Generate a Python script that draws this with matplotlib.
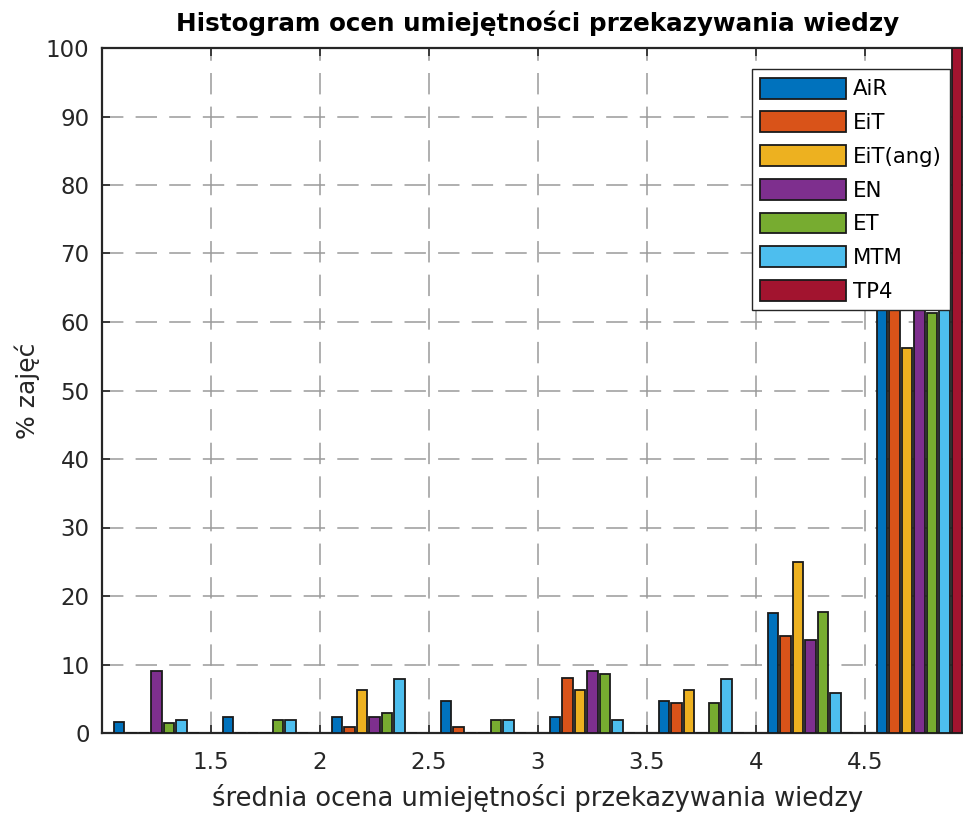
import matplotlib.pyplot as plt
import numpy as np

plt.rcParams['font.family'] = ['DejaVu Sans']

# bin centres of the histogram (average rating)
bins = [1.25, 1.75, 2.25, 2.75, 3.25, 3.75, 4.25, 4.75]

# % of classes per bin, one list per faculty
air = [1.64, 2.4, 2.4, 4.74, 2.4, 4.74, 17.5, 64.2]
eit = [0.0, 0.0, 0.9, 0.9, 8.0, 4.45, 14.2, 71.5]
eit_ang = [0.0, 0.0, 6.25, 0.0, 6.25, 6.25, 25.0, 56.25]
en = [9.1, 0.0, 2.3, 0.0, 9.1, 0.0, 13.6, 65.9]
et = [1.48, 1.93, 2.95, 1.93, 8.64, 4.35, 17.7, 61.3]
mtm = [1.95, 1.97, 7.9, 1.97, 1.97, 7.9, 5.9, 70.4]
tp4 = [0.0, 0.0, 0.0, 0.0, 0.0, 0.0, 0.0, 100.0]

series = [air, eit, eit_ang, en, et, mtm, tp4]
names = ['AiR', 'EiT', 'EiT(ang)', 'EN', 'ET', 'MTM', 'TP4']
colors = ['#0072BD', '#D95319', '#EDB120', '#7E2F8E',
          '#77AC30', '#4DBEEE', '#A2142F']

dark = '#262626'

fig = plt.figure(figsize=(9.63, 8.16), dpi=100)
ax = fig.add_axes([102 / 963, 83 / 816, 872 / 963, 685 / 816])

x = np.array(bins)
n = len(series)
step = 0.5 * 0.8 / n
for i, (vals, name, c) in enumerate(zip(series, names, colors)):
    ax.bar(x + (i - (n - 1) / 2) * step, vals, width=step * 0.84,
           color=c, edgecolor='#1a1a1a', linewidth=1.3, label=name, zorder=3)

ax.set_xlim(1, 5)
ax.set_ylim(0, 100)
ax.set_xticks([1.5, 2, 2.5, 3, 3.5, 4, 4.5])
ax.set_xticklabels(['1.5', '2', '2.5', '3', '3.5', '4', '4.5'])
ax.set_yticks(np.arange(0, 101, 10))

ax.set_axisbelow(True)
ax.grid(True, color='#9a9a9a', linewidth=1.1, linestyle=(0, (14, 8)))

for s in ax.spines.values():
    s.set_color(dark)
    s.set_linewidth(1.6)
ax.tick_params(direction='in', length=6, width=1.2, colors=dark,
               labelsize=16.5, top=True, right=True)
ax.tick_params(axis='x', pad=13)
ax.tick_params(axis='y', pad=9)
for lab in ax.get_xticklabels() + ax.get_yticklabels():
    lab.set_color(dark)

ax.set_title('Histogram ocen umiejętności przekazywania wiedzy',
             fontsize=17.7, fontweight='bold', color='black', pad=12)
ax.set_xlabel('średnia ocena umiejętności przekazywania wiedzy',
              fontsize=18.5, color=dark, labelpad=7)
ax.set_ylabel('% zajęć', fontsize=18, color=dark, labelpad=4)

leg = ax.legend(loc='upper right', bbox_to_anchor=(0.9725, 0.969),
                borderaxespad=0, fontsize=15.3, fancybox=False,
                framealpha=1, edgecolor=dark, handlelength=4.05,
                handleheight=1.13, labelspacing=0.57, handletextpad=0.3,
                borderpad=0.4)
leg.get_frame().set_linewidth(1.0)
leg.set_zorder(5)

fig.savefig('out.png', dpi=100)
